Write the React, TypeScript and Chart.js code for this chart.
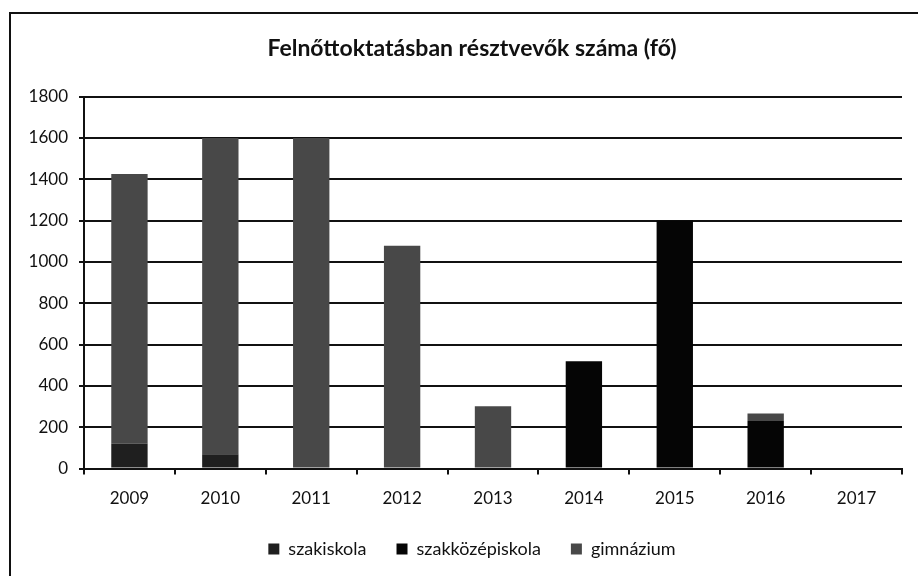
import React, { useEffect, useRef } from "react";
import { Chart, registerables } from "chart.js";

Chart.register(...registerables);

const categories = ["2009", "2010", "2011", "2012", "2013", "2014", "2015", "2016", "2017"];
const szakiskola = [120, 70, 0, 0, 0, 0, 0, 0, 0];
const szakkozepiskola = [0, 0, 0, 0, 0, 520, 1200, 230, 0];
const gimnazium = [1305, 1530, 1600, 1078, 302, 0, 0, 37, 0];
const yTicks = [0, 200, 400, 600, 800, 1000, 1200, 1400, 1600, 1800];
const titleText = "Felnőttoktatásban résztvevők száma (fő)";

export default function App() {
  const ref = useRef<HTMLCanvasElement | null>(null);

  useEffect(() => {
    document.body.style.margin = "0";
    const canvas = ref.current;
    if (!canvas) return;
    const font = "Lato, 'Open Sans', sans-serif";
    const chart = new Chart(canvas, {
      type: "bar",
      data: {
        labels: categories,
        datasets: [
          { label: "szakiskola", data: szakiskola, backgroundColor: "#1f1f1f", borderWidth: 0 },
          { label: "szakközépiskola", data: szakkozepiskola, backgroundColor: "#050505", borderWidth: 0 },
          { label: "gimnázium", data: gimnazium, backgroundColor: "#484848", borderWidth: 0 },
        ],
      },
      options: {
        animation: false,
        responsive: false,
        maintainAspectRatio: false,
        layout: { padding: { left: 26, right: 0, top: 0, bottom: 8 } },
        datasets: { bar: { categoryPercentage: 0.8, barPercentage: 0.5 } },
        plugins: {
          title: {
            display: true,
            text: titleText,
            color: "#111",
            font: { family: font, size: 23, weight: "bold" },
            padding: { top: 35, bottom: 34 },
          },
          legend: {
            position: "bottom",
            labels: {
              color: "#111",
              font: { family: font, size: 18 },
              boxWidth: 11,
              boxHeight: 11,
              padding: 30,
            },
          },
          tooltip: { enabled: false },
        },
        scales: {
          x: {
            stacked: true,
            afterFit: (scale: any) => {
              scale.height = scale.height - 13;
            },
            grid: { display: true, drawOnChartArea: false, drawTicks: true, tickLength: 6, color: "#111", lineWidth: 2, offset: true },
            border: { color: "#111", width: 2 },
            ticks: { color: "#111", font: { family: font, size: 17 }, padding: 14 },
          },
          y: {
            stacked: true,
            min: 0,
            max: 1800,
            afterBuildTicks: (scale: any) => {
              scale.ticks = yTicks.map((v) => ({ value: v }));
            },
            afterFit: (scale: any) => {
              scale.width = 58;
            },
            grid: { color: "#111", lineWidth: 2, tickLength: 5 },
            border: { color: "#111", width: 2 },
            ticks: {
              color: "#111",
              font: { family: font, size: 17 },
              padding: 11,
              callback: (v: any) => String(v),
            },
          },
          yRight: {
            position: "right",
            display: true,
            min: 0,
            max: 1800,
            afterFit: (scale: any) => {
              scale.width = 16;
            },
            grid: { drawOnChartArea: false, drawTicks: false, display: false },
            border: { display: false },
            ticks: { display: false },
          },
        },
      },
    });
    return () => chart.destroy();
  }, []);

  return (
    <div style={{ position: "relative", width: 918, height: 576, background: "#fff", overflow: "hidden" }}>
      <div
        style={{
          position: "absolute",
          left: 9,
          top: 12,
          width: 920,
          height: 580,
          borderLeft: "2px solid #111",
          borderTop: "2px solid #111",
        }}
      />
      <canvas ref={ref} width={918} height={576} style={{ position: "absolute", left: 0, top: 0 }} />
    </div>
  );
}
